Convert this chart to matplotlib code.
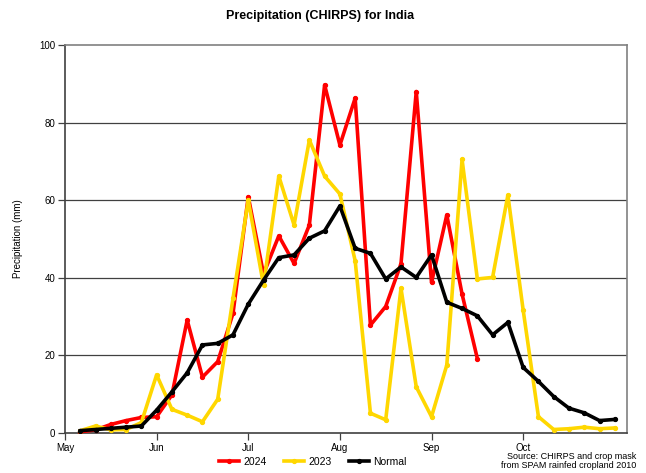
import numpy as np
import matplotlib
matplotlib.use('Agg')
import matplotlib.pyplot as plt

# pentad values (mm), May..Oct, 6 pentads per month
rain_2024 = [0.3, 0.8, 2.2, 3.2, 4.0, 4.2, 9.8, 29.1, 14.4, 18.4, 30.8, 60.9,
             41.0, 50.8, 43.7, 53.6, 89.7, 74.2, 86.3, 27.8, 32.6, 43.6, 88.0, 38.8,
             56.2, 35.8, 19.2]
rain_2023 = [0.6, 1.8, 0.8, 0.9, 2.7, 15.0, 6.1, 4.6, 2.9, 8.7, 34.7, 60.0,
             38.1, 66.2, 53.6, 75.5, 66.2, 61.6, 44.4, 5.1, 3.4, 37.3, 11.9, 4.2,
             17.5, 70.5, 39.7, 40.1, 61.3, 31.7, 4.2, 0.9, 1.1, 1.5, 1.1, 1.3]
rain_normal = [0.6, 0.9, 1.2, 1.5, 1.8, 5.9, 10.6, 15.5, 22.7, 23.1, 25.3, 33.2,
               39.4, 45.2, 45.9, 50.2, 52.1, 58.5, 47.6, 46.3, 39.7, 42.8, 40.1, 45.9,
               33.7, 32.1, 30.2, 25.3, 28.5, 16.9, 13.3, 9.4, 6.4, 5.2, 3.2, 3.5]
months = ['May', 'Jun', 'Jul', 'Aug', 'Sep', 'Oct']

plt.rcParams['font.family'] = ['Liberation Sans', 'DejaVu Sans']

fig = plt.figure(figsize=(6.46, 4.73), dpi=100)
ax = fig.add_axes([65/646, 40/473, 562/646, 388/473])

series = [(rain_2024, '#ff0000', '2024'),
          (rain_2023, '#ffd700', '2023'),
          (rain_normal, '#000000', 'Normal')]
for vals, col, lab in series:
    x = np.arange(1, len(vals) + 1)
    ax.plot(x, vals, color=col, lw=2.6, marker='o', ms=2.8, label=lab, zorder=3)

ax.set_xlim(0, 36.8)
ax.set_ylim(0, 100)
ax.set_xticks(np.arange(0, 36, 6))
ax.set_xticklabels(months)
ax.set_yticks(np.arange(0, 101, 20))
for y in [20, 40, 60, 80]:
    ax.axhline(y, color='#404040', lw=0.9, zorder=1)
for s in ax.spines.values():
    s.set_color('#808080')
    s.set_linewidth(1.2)
ax.spines['left'].set_color('#404040')
ax.spines['bottom'].set_color('#404040')
ax.tick_params(axis='both', labelsize=7, length=5, color='#404040', width=0.9, pad=2)
ax.set_ylabel('Precipitation (mm)', fontsize=7)
ax.yaxis.set_label_coords(-0.075, 0.5)

fig.suptitle('Precipitation (CHIRPS) for India', fontsize=9, fontweight='bold', x=0.495, y=0.978)

fig.legend(loc='center', bbox_to_anchor=(313/646, 11/473), ncol=3, frameon=False,
           fontsize=7.5, handlelength=1.9, columnspacing=1.7, handletextpad=0.4)

fig.text(636/646, 12/473, 'Source: CHIRPS and crop mask\nfrom SPAM rainfed cropland 2010',
         ha='right', va='center', fontsize=6.5, linespacing=1.0)

fig.savefig('out.png', dpi=100)
